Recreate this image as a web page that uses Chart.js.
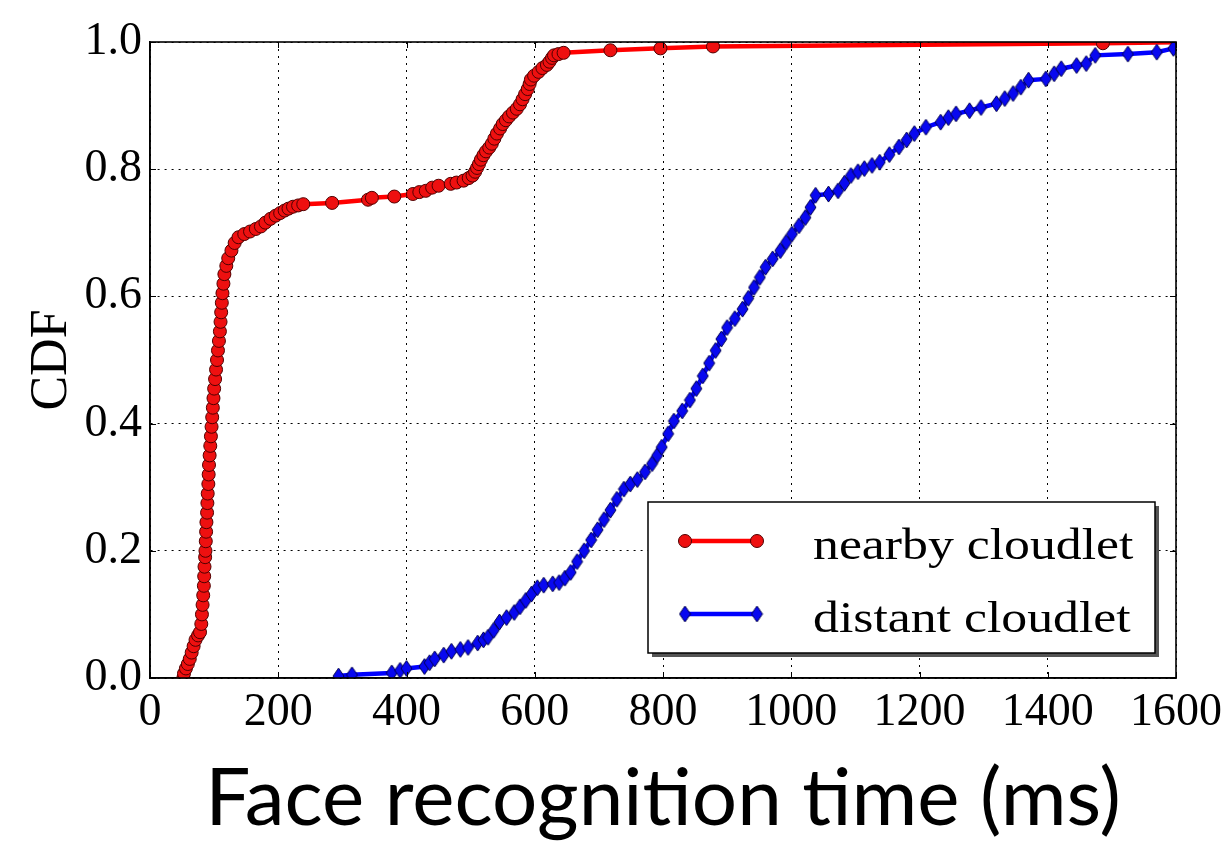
<!DOCTYPE html>
<html>
<head>
<meta charset="utf-8">
<script src="https://cdn.jsdelivr.net/npm/chart.js@4/dist/chart.umd.min.js"></script>
<style>
html, body { margin: 0; padding: 0; background: #fff; }
#wrap { width: 1229px; height: 843px; }
</style>
</head>
<body>
<div id="wrap"><canvas id="c" width="1229" height="843"></canvas></div>
<script>
// values
var seriesLabels = ['nearby cloudlet', 'distant cloudlet'];
var xTickLabels = ['0', '200', '400', '600', '800', '1000', '1200', '1400', '1600'];
var yTickLabels = ['0.0', '0.2', '0.4', '0.6', '0.8', '1.0'];

var nearbyX = [52, 53, 56, 59, 62, 65, 68, 71, 75, 78, 80, 81, 82, 83, 84, 84.5, 85, 86, 86.5, 87,
    87.5, 88, 89, 89.5, 90, 91, 91.5, 92, 93, 94, 95, 96, 97, 98, 99, 100, 101.5, 103, 104.5, 106,
    107.5, 109, 110, 111, 112, 113, 114.5, 116, 119, 122, 127, 132, 138, 147, 156, 165, 173, 180, 188, 196,
    203, 210, 216, 223, 231, 239, 284, 340, 346, 381, 410, 420, 430, 440, 450, 469, 478, 489, 497, 503,
    507, 510, 513, 516, 520, 524, 529, 533, 537, 541, 546, 550, 555, 560, 566, 572, 577, 581, 585, 589,
    592, 594, 599, 606, 612, 619, 623, 627, 630, 637, 645, 718, 796, 878, 1486, 1620];
var nearbyY = [0.0, 0.007, 0.015, 0.022, 0.03, 0.04, 0.05, 0.06, 0.067, 0.072, 0.085, 0.1, 0.115, 0.13, 0.145, 0.16, 0.175, 0.19, 0.2, 0.215,
    0.23, 0.245, 0.26, 0.275, 0.29, 0.305, 0.32, 0.335, 0.35, 0.365, 0.38, 0.395, 0.41, 0.425, 0.44, 0.455, 0.47, 0.485, 0.5, 0.515,
    0.53, 0.545, 0.56, 0.575, 0.59, 0.605, 0.62, 0.635, 0.648, 0.66, 0.672, 0.684, 0.693, 0.698, 0.702, 0.706, 0.71, 0.716, 0.722, 0.727,
    0.731, 0.735, 0.738, 0.741, 0.743, 0.745, 0.747, 0.752, 0.755, 0.757, 0.761, 0.764, 0.766, 0.771, 0.774, 0.777, 0.779, 0.782, 0.786, 0.79,
    0.796, 0.802, 0.808, 0.815, 0.822, 0.828, 0.834, 0.84, 0.848, 0.856, 0.864, 0.871, 0.877, 0.883, 0.889, 0.895, 0.902, 0.91, 0.918, 0.926,
    0.934, 0.941, 0.947, 0.953, 0.959, 0.964, 0.969, 0.975, 0.979, 0.981, 0.983, 0.987, 0.99, 0.993, 0.998, 1.0];

var distantX = [294, 315, 377, 390, 400, 428, 436, 444, 458, 470, 484, 496, 511, 520, 527, 536, 545, 556, 568, 577,
    586, 595, 604, 614, 628, 638, 647, 656, 666, 677, 688, 698, 708, 718, 728, 739, 749, 760, 772, 783,
    791, 798, 808, 817, 830, 842, 852, 862, 872, 882, 891, 900, 912, 924, 933, 942, 951, 960, 971, 983,
    992, 1001, 1012, 1022, 1030, 1038, 1058, 1073, 1083, 1093, 1104, 1114, 1126, 1138, 1153, 1168, 1180, 1192, 1210, 1233,
    1245, 1257, 1278, 1296, 1320, 1333, 1346, 1358, 1370, 1397, 1410, 1421, 1445, 1460, 1474, 1525, 1570, 1596];
var distantY = [0.003, 0.005, 0.008, 0.012, 0.015, 0.018, 0.024, 0.03, 0.036, 0.042, 0.045, 0.048, 0.055, 0.06, 0.064, 0.075, 0.088, 0.095, 0.103, 0.112,
    0.122, 0.132, 0.142, 0.146, 0.148, 0.15, 0.157, 0.166, 0.183, 0.2, 0.217, 0.233, 0.249, 0.264, 0.281, 0.297, 0.305, 0.312, 0.324, 0.337,
    0.35, 0.363, 0.384, 0.404, 0.42, 0.437, 0.455, 0.475, 0.495, 0.515, 0.533, 0.551, 0.565, 0.58, 0.597, 0.614, 0.63, 0.646, 0.659, 0.672,
    0.685, 0.698, 0.711, 0.724, 0.74, 0.759, 0.761, 0.766, 0.778, 0.79, 0.796, 0.801, 0.806, 0.811, 0.823, 0.835, 0.846, 0.856, 0.866, 0.874,
    0.881, 0.887, 0.892, 0.897, 0.903, 0.911, 0.919, 0.929, 0.94, 0.942, 0.95, 0.958, 0.963, 0.966, 0.979, 0.981, 0.984, 0.99];

var RED = '#ee1010', RED_EDGE = '#500000', BLUE = '#0808f0', BLUE_EDGE = '#000050';
var SERIF = '"Liberation Serif", "Times New Roman", serif';

function toPoints(xs, ys) {
    return xs.map(function (x, i) { return {x: x, y: ys[i]}; });
}

// thin diamond marker like matplotlib's 'd'
function thinDiamond(w, h) {
    var c = document.createElement('canvas');
    c.width = w + 2; c.height = h + 2;
    var g = c.getContext('2d');
    g.beginPath();
    g.moveTo(c.width / 2, 1);
    g.lineTo(w + 1, c.height / 2);
    g.lineTo(c.width / 2, h + 1);
    g.lineTo(1, c.height / 2);
    g.closePath();
    g.fillStyle = BLUE; g.fill();
    g.lineWidth = 1; g.strokeStyle = BLUE_EDGE; g.stroke();
    return c;
}
var diamondImg = thinDiamond(11, 16);

var framePlugin = {
    id: 'frame',
    afterDatasetsDraw: function (chart) {
        var ctx = chart.ctx, a = chart.chartArea;
        var xs = chart.scales.x, ys = chart.scales.y;
        ctx.save();
        ctx.strokeStyle = '#000';
        ctx.lineWidth = 1;
        ctx.beginPath();
        xs.ticks.forEach(function (t) {
            var p = Math.round(xs.getPixelForValue(t.value)) + 0.5;
            ctx.moveTo(p, a.bottom); ctx.lineTo(p, a.bottom - 6);
            ctx.moveTo(p, a.top); ctx.lineTo(p, a.top + 6);
        });
        ys.ticks.forEach(function (t) {
            var p = Math.round(ys.getPixelForValue(t.value)) + 0.5;
            ctx.moveTo(a.left, p); ctx.lineTo(a.left + 6, p);
            ctx.moveTo(a.right, p); ctx.lineTo(a.right - 6, p);
        });
        ctx.stroke();
        ctx.lineWidth = 1.6;
        ctx.strokeRect(a.left, a.top, a.right - a.left, a.bottom - a.top);
        ctx.restore();
    }
};

var legendPlugin = {
    id: 'boxLegend',
    afterDraw: function (chart) {
        var ctx = chart.ctx;
        var bx = 648, by = 502, bw = 507, bh = 151;
        ctx.save();
        ctx.fillStyle = '#555';
        ctx.fillRect(bx + 4, by + 4, bw, bh);
        ctx.fillStyle = '#fff';
        ctx.fillRect(bx, by, bw, bh);
        ctx.lineWidth = 1.5;
        ctx.strokeStyle = '#000';
        ctx.strokeRect(bx, by, bw, bh);

        var rows = [541, 614];
        chart.data.datasets.forEach(function (ds, i) {
            var y = rows[i];
            ctx.lineWidth = 4.5;
            ctx.strokeStyle = ds.borderColor;
            ctx.beginPath(); ctx.moveTo(685, y); ctx.lineTo(757, y); ctx.stroke();
            [685, 757].forEach(function (x) {
                if (i === 0) {
                    ctx.beginPath(); ctx.arc(x, y, 6.5, 0, Math.PI * 2);
                    ctx.fillStyle = RED; ctx.fill();
                    ctx.lineWidth = 1; ctx.strokeStyle = RED_EDGE; ctx.stroke();
                } else {
                    ctx.drawImage(diamondImg, x - diamondImg.width / 2, y - diamondImg.height / 2);
                }
            });
            ctx.save();
            ctx.translate(813, y + 18);
            ctx.scale(1.15, 1);
            ctx.fillStyle = '#000';
            ctx.font = '45px ' + SERIF;
            ctx.textBaseline = 'alphabetic';
            ctx.fillText(ds.label, 0, 0);
            ctx.restore();
        });
        ctx.restore();
    }
};

new Chart(document.getElementById('c'), {
    type: 'line',
    data: {
        datasets: [{
            label: seriesLabels[0],
            data: toPoints(nearbyX, nearbyY),
            borderColor: '#ff0000',
            borderWidth: 4.5,
            pointStyle: 'circle',
            pointRadius: 6.5,
            pointBackgroundColor: RED,
            pointBorderColor: RED_EDGE,
            pointBorderWidth: 1,
            tension: 0,
            order: 2
        }, {
            label: seriesLabels[1],
            data: toPoints(distantX, distantY),
            borderColor: '#0000ff',
            borderWidth: 4.5,
            pointStyle: diamondImg,
            pointRadius: 6,
            tension: 0,
            order: 1
        }]
    },
    options: {
        responsive: false,
        animation: false,
        events: [],
        layout: {padding: {top: 42, right: 48, left: 0, bottom: 0}},
        plugins: {legend: {display: false}, tooltip: {enabled: false}},
        scales: {
            x: {
                type: 'linear',
                min: 0, max: 1600,
                afterFit: function (s) { s.height = 165; },
                afterBuildTicks: function (s) {
                    s.ticks = xTickLabels.map(function (l) { return {value: Number(l)}; });
                },
                ticks: {
                    color: '#000',
                    padding: 7,
                    maxRotation: 0,
                    font: {family: SERIF, size: 46},
                    callback: function (v, i) { return xTickLabels[i]; }
                },
                grid: {color: '#000', lineWidth: 1, drawTicks: false},
                border: {display: true, color: '#000', width: 1.6, dash: [2, 5]},
                title: {
                    display: true,
                    text: 'Face recognition time (ms)',
                    color: '#000',
                    font: {family: 'Lato, "Open Sans", sans-serif', size: 80, lineHeight: 1.1},
                    padding: {top: 0, bottom: 0}
                }
            },
            y: {
                min: 0, max: 1,
                afterFit: function (s) { s.width = 150; },
                afterBuildTicks: function (s) {
                    s.ticks = yTickLabels.map(function (l) { return {value: Number(l)}; });
                },
                ticks: {
                    color: '#000',
                    padding: 8,
                    font: {family: SERIF, size: 46},
                    callback: function (v, i) { return yTickLabels[i]; }
                },
                grid: {color: '#000', lineWidth: 1, drawTicks: false},
                border: {display: true, color: '#000', width: 1.6, dash: [2, 5]},
                title: {
                    display: true,
                    text: 'CDF',
                    color: '#000',
                    font: {family: SERIF, size: 52, lineHeight: 1.2},
                    padding: {top: 21, bottom: 0}
                }
            }
        }
    },
    plugins: [framePlugin, legendPlugin]
});
</script>
</body>
</html>
